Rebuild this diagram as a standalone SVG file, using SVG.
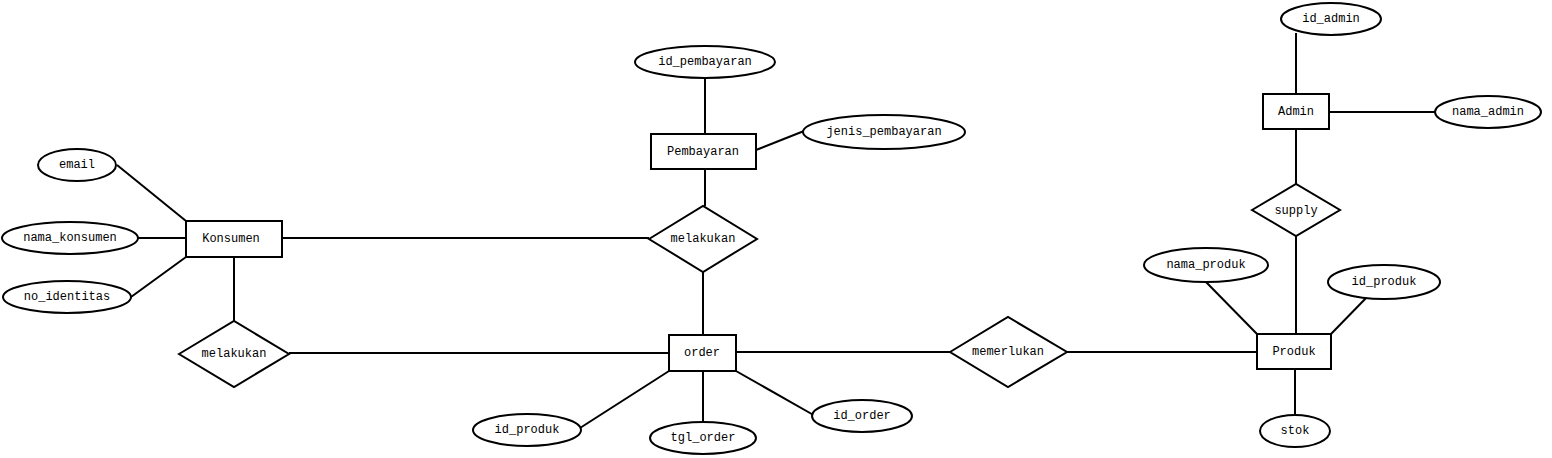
<svg xmlns="http://www.w3.org/2000/svg" width="1552" height="458" viewBox="0 0 1552 458">
<style>
.n{fill:#fff;stroke:#000;stroke-width:2}
line{stroke:#000;stroke-width:2}
text{font-family:"Liberation Mono","Courier New",monospace;font-size:12px;text-anchor:middle;dominant-baseline:central;fill:#000}
</style>
<rect width="1552" height="458" fill="#fff"/>
<g id="connectors">
<line x1="117" y1="165" x2="186" y2="221"/>
<line x1="138" y1="238" x2="186" y2="238"/>
<line x1="131" y1="297" x2="186" y2="257"/>
<line x1="282" y1="238" x2="649" y2="238"/>
<line x1="705" y1="78" x2="705" y2="134"/>
<line x1="756" y1="150" x2="804" y2="131"/>
<line x1="705" y1="169" x2="705" y2="206"/>
<line x1="703" y1="272" x2="703" y2="335"/>
<line x1="234" y1="257" x2="234" y2="321"/>
<line x1="289" y1="353" x2="669" y2="353"/>
<line x1="736" y1="352" x2="950" y2="352"/>
<line x1="1067" y1="352" x2="1257" y2="352"/>
<line x1="1295" y1="369" x2="1295" y2="415"/>
<line x1="1206" y1="282" x2="1257" y2="334"/>
<line x1="1368" y1="296" x2="1331" y2="334"/>
<line x1="1296" y1="236" x2="1296" y2="334"/>
<line x1="1296" y1="129" x2="1296" y2="184"/>
<line x1="1296" y1="33" x2="1296" y2="94"/>
<line x1="1329" y1="112" x2="1435" y2="112"/>
<line x1="669" y1="371" x2="580" y2="428"/>
<line x1="703" y1="371" x2="703" y2="422"/>
<line x1="736" y1="371" x2="817" y2="417"/>
</g>
<g id="email"><ellipse class="n" cx="77" cy="165" rx="39" ry="16"/><text x="77" y="165">email</text></g>
<g id="nama_konsumen"><ellipse class="n" cx="70" cy="238" rx="68" ry="16"/><text x="70" y="238">nama_konsumen</text></g>
<g id="no_identitas"><ellipse class="n" cx="67" cy="297" rx="64" ry="16"/><text x="67" y="297">no_identitas</text></g>
<g id="konsumen"><rect class="n" x="186" y="221" width="96" height="36"/><text x="231" y="239">Konsumen</text></g>
<g id="melakukan1"><polygon class="n" points="649,239 703,206 757,239 703,272"/><text x="703" y="239">melakukan</text></g>
<g id="pembayaran"><rect class="n" x="651" y="134" width="105" height="35"/><text x="703" y="152">Pembayaran</text></g>
<g id="id_pembayaran"><ellipse class="n" cx="705" cy="62" rx="70" ry="16"/><text x="705" y="62">id_pembayaran</text></g>
<g id="jenis_pembayaran"><ellipse class="n" cx="884" cy="132" rx="81" ry="17"/><text x="884" y="132">jenis_pembayaran</text></g>
<g id="order"><rect class="n" x="669" y="335" width="67" height="36"/><text x="702" y="353">order</text></g>
<g id="melakukan2"><polygon class="n" points="179,354 234,321 289,354 234,387"/><text x="234" y="354">melakukan</text></g>
<g id="memerlukan"><polygon class="n" points="950,352 1008,317 1067,352 1008,387"/><text x="1008" y="352">memerlukan</text></g>
<g id="produk"><rect class="n" x="1257" y="334" width="74" height="35"/><text x="1294" y="352">Produk</text></g>
<g id="stok"><ellipse class="n" cx="1295" cy="431" rx="35" ry="16"/><text x="1295" y="431">stok</text></g>
<g id="nama_produk"><ellipse class="n" cx="1206" cy="265" rx="62" ry="17"/><text x="1206" y="265">nama_produk</text></g>
<g id="id_produk2"><ellipse class="n" cx="1384" cy="282" rx="56" ry="17"/><text x="1384" y="282">id_produk</text></g>
<g id="supply"><polygon class="n" points="1252,210 1296,184 1340,210 1296,236"/><text x="1296" y="211">supply</text></g>
<g id="admin"><rect class="n" x="1263" y="94" width="66" height="35"/><text x="1296" y="112">Admin</text></g>
<g id="id_admin"><ellipse class="n" cx="1331" cy="19" rx="50" ry="16"/><text x="1331" y="19">id_admin</text></g>
<g id="nama_admin"><ellipse class="n" cx="1488" cy="112" rx="53" ry="16"/><text x="1488" y="112">nama_admin</text></g>
<g id="id_produk1"><ellipse class="n" cx="527" cy="430" rx="54" ry="16"/><text x="527" y="430">id_produk</text></g>
<g id="tgl_order"><ellipse class="n" cx="703" cy="438" rx="53" ry="16"/><text x="703" y="438">tgl_order</text></g>
<g id="id_order"><ellipse class="n" cx="862" cy="416" rx="50" ry="16"/><text x="862" y="416">id_order</text></g>
</svg>
